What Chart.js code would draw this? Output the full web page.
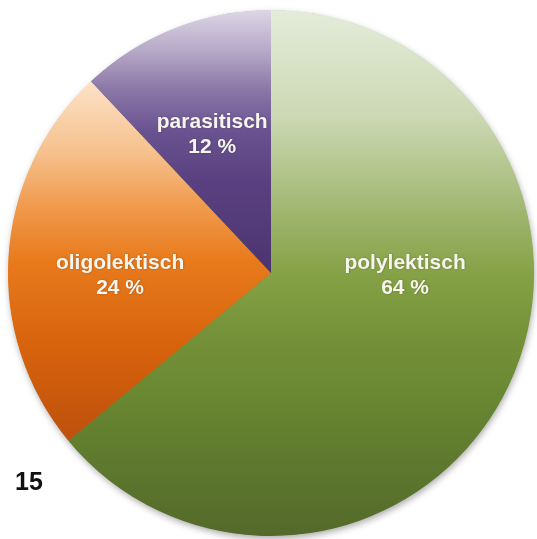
<!DOCTYPE html>
<html>
<head>
<meta charset="utf-8">
<script src="https://cdn.jsdelivr.net/npm/chart.js@4/dist/chart.umd.min.js"></script>
<style>
  html, body { margin: 0; padding: 0; background: #ffffff; }
  #wrap { width: 537px; height: 539px; position: relative; }
</style>
</head>
<body>
<div id="wrap"><canvas id="c" width="537" height="539"></canvas></div>
<script>
// ---- data ----
const categories = ['polylektisch', 'oligolektisch', 'parasitisch'];
const shares = [64, 24, 12];
const figureNumber = '15';

// ---- style ----
const gradientStops = [
  [[0, '#e4ecda'], [0.2, '#ccd9b4'], [0.4, '#9cb36a'], [0.5, '#86a246'], [0.6, '#77943a'], [0.8, '#63802f'], [1, '#53692a']],
  [[0, '#fde2c8'], [0.2, '#f6c08c'], [0.35, '#f09a4c'], [0.5, '#e87a1c'], [0.75, '#d6620c'], [1, '#bd500c']],
  [[0, '#ddd6e6'], [0.15, '#b8aac8'], [0.3, '#8c78a8'], [0.46, '#6a5290'], [0.65, '#5a4080'], [1, '#4c3470']]
];
// label placement: degrees clockwise from 12 o'clock, and fraction of radius
const labelAngleDeg = [91, 269, 337];
const labelRadiusFrac = [0.51, 0.574, 0.572];

function sliceYBounds(chart, index) {
  const ca = chart.chartArea;
  const cx = (ca.left + ca.right) / 2, cy = (ca.top + ca.bottom) / 2;
  const r = Math.min(ca.right - ca.left, ca.bottom - ca.top) / 2;
  const total = shares.reduce((a, b) => a + b, 0);
  let before = 0;
  for (let i = 0; i < index; i++) before += shares[i];
  const a0 = -Math.PI / 2 + before / total * 2 * Math.PI;
  const a1 = a0 + shares[index] / total * 2 * Math.PI;
  const ys = [cy, cy + r * Math.sin(a0), cy + r * Math.sin(a1)];
  for (let k = -2; k <= 4; k++) {
    const a = k * Math.PI / 2;
    if (a > a0 && a < a1) ys.push(cy + r * Math.sin(a));
  }
  return [Math.min(...ys), Math.max(...ys)];
}

function sliceGradient(ctx) {
  const chart = ctx.chart;
  if (!chart.chartArea) return gradientStops[ctx.dataIndex][3][1];
  const [y0, y1] = sliceYBounds(chart, ctx.dataIndex);
  const g = chart.ctx.createLinearGradient(0, y0, 0, y1);
  gradientStops[ctx.dataIndex].forEach(([o, c]) => g.addColorStop(o, c));
  return g;
}

const shadowPlugin = {
  id: 'shadowPlugin',
  beforeDatasetsDraw(chart) {
    const arc = chart.getDatasetMeta(0).data[0];
    if (!arc) return;
    const ctx = chart.ctx;
    ctx.save();
    ctx.beginPath();
    ctx.arc(arc.x, arc.y, arc.outerRadius - 0.5, 0, Math.PI * 2);
    ctx.shadowColor = 'rgba(0,0,0,0.35)';
    ctx.shadowBlur = 7;
    ctx.shadowOffsetX = 1;
    ctx.shadowOffsetY = 3;
    ctx.fillStyle = '#6a8434';
    ctx.fill();
    ctx.restore();
  }
};

const labelPlugin = {
  id: 'labelPlugin',
  afterDatasetsDraw(chart) {
    const meta = chart.getDatasetMeta(0);
    const ctx = chart.ctx;
    ctx.save();
    ctx.font = 'bold 21px "Liberation Sans", Arial, sans-serif';
    ctx.textAlign = 'center';
    ctx.textBaseline = 'middle';
    ctx.shadowColor = 'rgba(0,0,0,0.25)';
    ctx.shadowBlur = 2;
    ctx.shadowOffsetX = 0.5;
    ctx.shadowOffsetY = 0.5;
    ctx.fillStyle = '#f6f5ee';
    meta.data.forEach((arc, i) => {
      const a = (labelAngleDeg[i] - 90) * Math.PI / 180;
      const d = labelRadiusFrac[i] * arc.outerRadius;
      const x = arc.x + d * Math.cos(a);
      const y = arc.y + d * Math.sin(a);
      ctx.fillText(categories[i], x, y - 12.5);
      ctx.fillText(shares[i] + ' %', x, y + 12.5);
    });
    ctx.restore();

    ctx.save();
    ctx.font = 'bold 25px "Liberation Sans", Arial, sans-serif';
    ctx.textAlign = 'left';
    ctx.textBaseline = 'alphabetic';
    ctx.fillStyle = '#111111';
    ctx.fillText(figureNumber, 15, 490);
    ctx.restore();
  }
};

new Chart(document.getElementById('c'), {
  type: 'pie',
  data: {
    labels: categories,
    datasets: [{
      data: shares,
      backgroundColor: sliceGradient,
      borderWidth: 0,
      hoverOffset: 0,
      offset: 0
    }]
  },
  options: {
    responsive: false,
    animation: false,
    layout: { padding: { left: 8, top: 10, right: 3, bottom: 3 } },
    plugins: {
      legend: { display: false },
      tooltip: { enabled: false }
    }
  },
  plugins: [shadowPlugin, labelPlugin]
});
</script>
</body>
</html>
